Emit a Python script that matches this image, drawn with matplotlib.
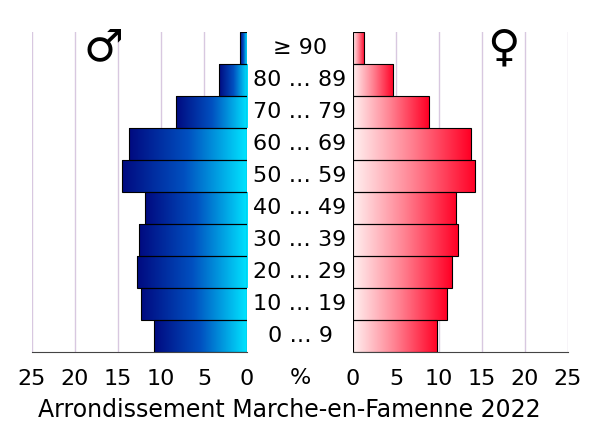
import matplotlib
matplotlib.use("Agg")
import matplotlib.pyplot as plt
import numpy as np
from matplotlib.colors import LinearSegmentedColormap

ages = ["0 … 9", "10 … 19", "20 … 29", "30 … 39", "40 … 49", "50 … 59", "60 … 69", "70 … 79", "80 … 89", "≥ 90"]
male = [10.8, 12.3, 12.8, 12.6, 11.9, 14.5, 13.7, 8.3, 3.3, 0.8]
female = [9.8, 10.9, 11.5, 12.2, 12.0, 14.2, 13.7, 8.8, 4.7, 1.3]
ticks = [0, 5, 10, 15, 20, 25]

fig = plt.figure(figsize=(6, 4.28), dpi=100)
bottom = (428 - 352) / 428
height = 320 / 428
axL = fig.add_axes([32 / 600, bottom, 215 / 600, height])
axR = fig.add_axes([353 / 600, bottom, 215 / 600, height])

cm_m = LinearSegmentedColormap.from_list("m", ["#00e4ff", "#0050c0", "#000a80"])
cm_f = LinearSegmentedColormap.from_list("f", ["#fff0f0", "#ff8090", "#ff0025"])
grad = np.linspace(0, 1, 256).reshape(1, -1)

for ax, vals, cm in [(axL, male, cm_m), (axR, female, cm_f)]:
    ax.set_xlim(0, 25)
    ax.set_ylim(0, len(ages))
    for t in ticks[1:]:
        ax.axvline(t, color="#d8c8e0", lw=1, zorder=0)
    for i, v in enumerate(vals):
        ax.imshow(grad, cmap=cm, aspect="auto", extent=[0, v, i, i + 1], zorder=2, interpolation="bilinear")
        ax.add_patch(plt.Rectangle((0, i), v, 1, fill=False, ec="black", lw=0.8, zorder=3))
    ax.set_xticks(ticks)
    ax.set_xticklabels([str(t) for t in ticks], fontsize=16)
    ax.set_yticks([])
    for s in ["top", "left", "right"]:
        ax.spines[s].set_visible(False)
    ax.spines["bottom"].set_color("#444444")
    ax.tick_params(axis="x", length=0, pad=12)
    ax.set_xlim(0, 25)
    ax.set_ylim(0, len(ages))
axL.invert_xaxis()

for i, a in enumerate(ages):
    fig.text(0.5, bottom + (i + 0.5) / len(ages) * height, a, ha="center", va="center", fontsize=16)
fig.text(0.5, (428 - 378) / 428, "%", ha="center", va="center", fontsize=16)
fig.text(103 / 600, (428 - 48) / 428, "♂", ha="center", va="center", fontsize=32, fontweight="bold")
fig.text(503 / 600, (428 - 48) / 428, "♀", ha="center", va="center", fontsize=32, fontweight="bold")
fig.text(289 / 600, (428 - 410) / 428, "Arrondissement Marche-en-Famenne 2022", ha="center", va="center", fontsize=17)

fig.savefig("out.png", dpi=100)
